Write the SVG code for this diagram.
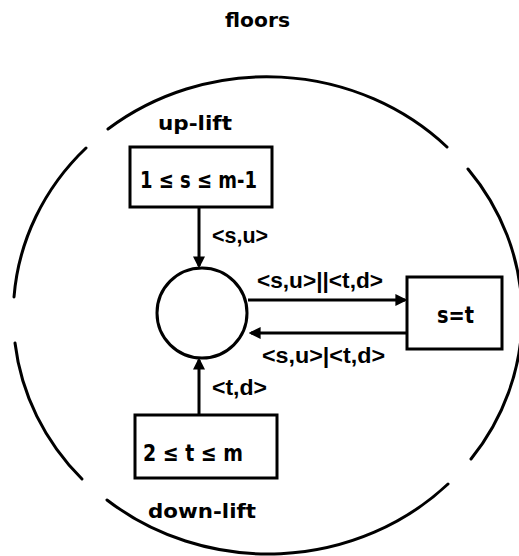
<svg xmlns="http://www.w3.org/2000/svg" width="519" height="556" viewBox="0 0 519 556">
  <style>
    .bg { fill: #ffffff; }
    .ring { fill: none; stroke: #000; stroke-width: 3; stroke-linecap: round; }
    .box { fill: #fff; stroke: #000; stroke-width: 3; }
    .place { fill: #fff; stroke: #000; stroke-width: 3; }
    .edge { fill: none; stroke: #000; stroke-width: 3; }
    text { font-family: "DejaVu Sans", "Liberation Sans", sans-serif; font-weight: bold; fill: #000; }
    .lbl { font-size: 20px; }
    .big { font-size: 23px; }
    .arc { font-family: "Liberation Sans", "DejaVu Sans", sans-serif; font-size: 22px; }
  </style>
  <defs>
    <marker id="arrow" markerUnits="userSpaceOnUse" markerWidth="12" markerHeight="12" viewBox="0 0 10 10" refX="8" refY="5" orient="auto">
      <path d="M0,0 L10,5 L0,10 z" fill="#000"/>
    </marker>
  </defs>

  <rect class="bg" x="0" y="0" width="519" height="556"/>

  <!-- title -->
  <text class="lbl" x="225" y="27" textLength="65" lengthAdjust="spacingAndGlyphs">floors</text>

  <!-- broken outer ring -->
  <g id="floors-ring">
    <path class="ring" d="M108,129 A254,238 0 0 1 447,147"/>
    <path class="ring" d="M468,169 A254,238 0 0 1 471,459"/>
    <path class="ring" d="M448,484 A254,238 0 0 1 107,500"/>
    <path class="ring" d="M82,479 A254,238 0 0 1 15,343"/>
    <path class="ring" d="M14,297 A254,238 0 0 1 86,148"/>
  </g>

  <!-- connectors -->
  <g id="connectors">
    <line class="edge" x1="199" y1="207" x2="199" y2="266" marker-end="url(#arrow)"/>
    <line class="edge" x1="199" y1="414" x2="199" y2="360" marker-end="url(#arrow)"/>
    <line class="edge" x1="248" y1="300" x2="405" y2="300" marker-end="url(#arrow)"/>
    <line class="edge" x1="407" y1="333" x2="251" y2="333" marker-end="url(#arrow)"/>
    <text class="arc" x="212" y="243" textLength="56" lengthAdjust="spacingAndGlyphs">&lt;s,u&gt;</text>
    <text class="arc" x="257" y="288" textLength="126" lengthAdjust="spacingAndGlyphs">&lt;s,u&gt;||&lt;t,d&gt;</text>
    <text class="arc" x="262" y="363" textLength="123" lengthAdjust="spacingAndGlyphs">&lt;s,u&gt;|&lt;t,d&gt;</text>
    <text class="arc" x="212" y="395" textLength="55" lengthAdjust="spacingAndGlyphs">&lt;t,d&gt;</text>
  </g>

  <!-- up-lift transition -->
  <g id="up-lift">
    <text class="lbl" x="158" y="130" textLength="74" lengthAdjust="spacingAndGlyphs">up-lift</text>
    <rect class="box" x="130" y="147" width="142" height="60"/>
    <text class="big" x="140" y="188" textLength="117" lengthAdjust="spacingAndGlyphs">1 ≤ s ≤ m-1</text>
  </g>

  <!-- central place -->
  <g id="place">
    <circle class="place" cx="202" cy="313" r="45"/>
  </g>

  <!-- s=t transition -->
  <g id="meet">
    <rect class="box" x="407" y="277" width="95" height="72"/>
    <text class="big" x="437" y="323" textLength="37" lengthAdjust="spacingAndGlyphs">s=t</text>
  </g>

  <!-- down-lift transition -->
  <g id="down-lift">
    <rect class="box" x="135" y="415" width="142" height="63"/>
    <text class="big" x="143" y="461" textLength="100" lengthAdjust="spacingAndGlyphs">2 ≤ t ≤ m</text>
    <text class="lbl" x="148" y="518" textLength="108" lengthAdjust="spacingAndGlyphs">down-lift</text>
  </g>
</svg>
